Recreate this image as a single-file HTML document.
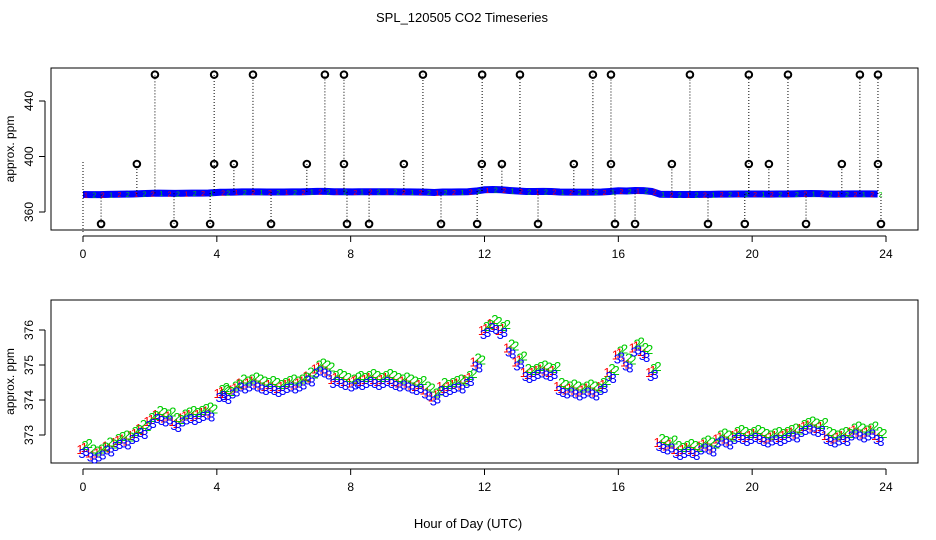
<!DOCTYPE html>
<html><head><meta charset="utf-8"><style>
body{margin:0;background:#fff}
svg{display:block;font-family:"Liberation Sans",sans-serif}
</style></head><body>
<svg id="c" width="936" height="540" viewBox="0 0 936 540">
<text x="462" y="22" font-size="13" text-anchor="middle">SPL_120505  CO2 Timeseries</text>
<text x="468" y="528" font-size="13" text-anchor="middle">Hour of Day (UTC)</text>
<g id="topPanel"></g>
<g id="botPanel"></g>
</svg>
<script>
const hours=[0,0.25,0.5,0.75,1,1.25,1.5,1.75,2,2.25,2.5,2.75,3,3.25,3.5,3.75,4.1,4.25,4.5,4.75,5,5.25,5.5,5.75,6,6.25,6.5,6.75,7,7.25,7.5,7.75,8.05,8.25,8.5,8.75,9,9.25,9.5,9.75,10,10.25,10.5,10.75,11,11.25,11.5,11.75,12,12.25,12.5,12.75,13,13.25,13.5,13.75,14,14.25,14.5,14.75,15,15.25,15.5,15.75,16,16.25,16.5,16.75,17,17.25,17.5,17.75,18,18.25,18.5,18.75,19,19.25,19.5,19.75,20,20.25,20.5,20.75,21,21.25,21.5,21.75,22,22.25,22.5,22.75,23,23.25,23.5,23.75];
const co2=[372.6,372.5,372.5,372.7,372.8,372.9,373.0,373.2,373.4,373.6,373.5,373.4,373.5,373.6,373.6,373.7,374.2,374.2,374.3,374.5,374.5,374.5,374.4,374.4,374.4,374.5,374.5,374.7,374.9,374.9,374.6,374.6,374.5,374.6,374.6,374.6,374.6,374.6,374.5,374.5,374.4,374.3,374.1,374.4,374.4,374.5,374.6,375.1,376.0,376.2,376.0,375.5,375.1,374.8,374.8,374.9,374.8,374.4,374.3,374.3,374.3,374.3,374.4,374.8,375.3,375.1,375.5,375.4,374.8,372.8,372.7,372.6,372.6,372.6,372.7,372.7,372.9,372.9,373.0,373.0,373.0,373.0,372.9,373.0,373.0,373.1,373.2,373.3,373.2,373.0,372.9,373.0,373.1,373.1,373.1,373.0];
const highHours=[2.15,3.92,5.08,7.23,7.80,10.16,11.93,13.06,15.24,15.78,18.14,19.90,21.07,23.22,23.76];
const highVal=459;
const midHours=[1.61,3.92,4.51,6.69,7.80,9.59,11.92,12.52,14.67,15.78,17.60,19.90,20.50,22.68,23.76];
const midVal=394.6;
const lowHours=[0.54,2.72,3.80,5.62,7.89,8.55,10.70,11.78,13.60,15.90,16.50,18.68,19.78,21.61,23.85];
const lowVal=351.4;
const xTicks=[0,4,8,12,16,20,24];
const topTicks=[360,400,440];
const botTicks=[373,374,375,376];

const NS="http://www.w3.org/2000/svg";
function mk(p,t,a,txt){const e=document.createElementNS(NS,t);for(const k in a)e.setAttribute(k,a[k]);if(txt!==undefined)e.textContent=txt;p.appendChild(e);return e;}
const X=h=>83+h*33.458;
const Yt=v=>212-(v-360)*1.3875;
const Yb=v=>435-(v-373)*35;
function baseAt(h){let i=0;for(let k=0;k<hours.length;k++)if(hours[k]<=h)i=k;return co2[i];}

function frame(g,y0,y1,ticks,Y,name){
  const r=mk(g,'rect',{x:51,y:y0,width:867,height:y1-y0,fill:'none',stroke:'#000'});
  
  const xa=mk(g,'g',{});
  mk(xa,'line',{x1:X(0),x2:X(24),y1:y1+6,y2:y1+6,stroke:'#000'});
  xTicks.forEach(t=>{mk(xa,'line',{x1:X(t),x2:X(t),y1:y1+6,y2:y1+12,stroke:'#000'});
    const l=mk(xa,'text',{x:X(t),y:y1+28,'font-size':12,'text-anchor':'middle'},t);
    });
  const ya=mk(g,'g',{});
  mk(ya,'line',{x1:45,x2:45,y1:Y(ticks[0]),y2:Y(ticks[ticks.length-1]),stroke:'#000'});
  ticks.forEach(t=>{mk(ya,'line',{x1:39,x2:45,y1:Y(t),y2:Y(t),stroke:'#000'});
    const l=mk(ya,'text',{x:0,y:0,'font-size':12,'text-anchor':'middle',transform:`translate(33,${Y(t)}) rotate(-90)`},t);
    });
  const yt=mk(g,'text',{x:0,y:0,'font-size':12,'text-anchor':'middle',transform:`translate(14,${(y0+y1)/2}) rotate(-90)`},'approx. ppm');
  
}

const topG=document.getElementById('topPanel');
frame(topG,68,230,topTicks,Yt,'top');
const band=mk(topG,'polyline',{points:hours.map((h,i)=>X(h)+','+Yt(co2[i])).join(' '),fill:'none',stroke:'#0000ff','stroke-width':7});

hours.forEach((h,i)=>{const c=mk(topG,'text',{x:X(h)+1,y:Yt(co2[i])+3,'font-size':7,fill:i%2?'#00cc00':'#ff0000'},i%3===0?'1':'2');
  });
function spikes(arr,val,nm){arr.forEach(h=>{
  const b=baseAt(h);
  const l=mk(topG,'line',{x1:X(h),x2:X(h),y1:Yt(b),y2:Yt(val),stroke:'#000','stroke-dasharray':'1,2'});
  
  const c=mk(topG,'circle',{cx:X(h),cy:Yt(val),r:3.3,fill:'none',stroke:'#000','stroke-width':2});
  });}
spikes(highHours,highVal,'high');spikes(midHours,midVal,'mid');spikes(lowHours,lowVal,'low');
mk(topG,'line',{x1:X(0),x2:X(0),y1:Yt(396),y2:233,stroke:'#000','stroke-dasharray':'1,2'});

const botG=document.getElementById('botPanel');
frame(botG,300,463,botTicks,Yb,'bottom');
const ser=[{lab:'1',col:'#ff0000',dx:-3,dy:0},{lab:'2',col:'#00cc00',dx:2,dy:-4},{lab:'3',col:'#0000ff',dx:-1,dy:4}];
ser.forEach(s=>{hours.forEach((h,i)=>{[0,0.125].forEach(o=>{
  const t=mk(botG,'text',{x:X(h+o)+s.dx,y:Yb(co2[i])+5+s.dy+(o?((i%2)?2:-2):0),'font-size':13,'text-anchor':'middle',fill:s.col},s.lab);
  });});});
</script>
</body></html>
